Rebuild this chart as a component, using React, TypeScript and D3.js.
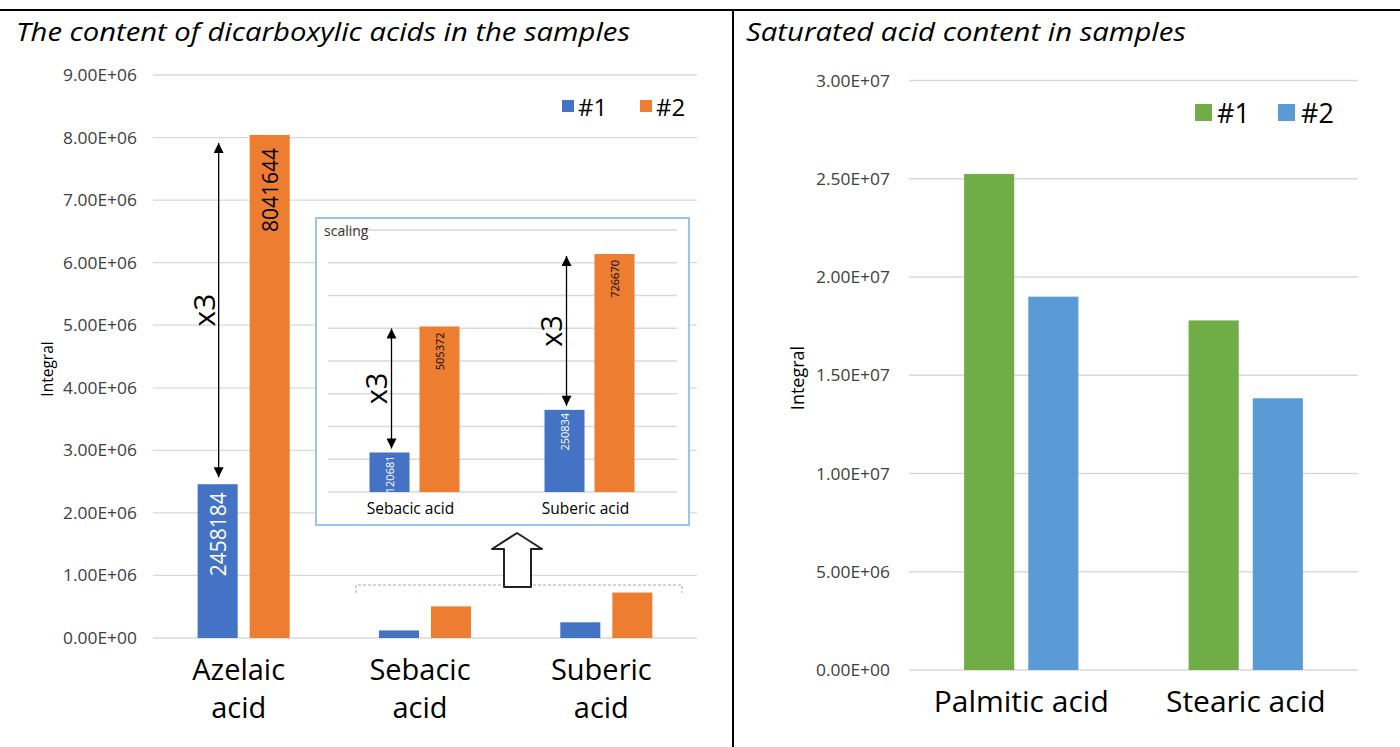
import React, { useRef, useEffect } from 'react'
import * as d3 from 'd3'

// left chart: dicarboxylic acids
const dicarbCategories = ['Azelaic acid', 'Sebacic acid', 'Suberic acid']
const dicarbSample1 = [2458184, 120681, 250834]
const dicarbSample2 = [8041644, 505372, 726670]
const dicarbTicks = [0, 1e6, 2e6, 3e6, 4e6, 5e6, 6e6, 7e6, 8e6, 9e6]

// inset "scaling" panel (zoom on the two small acids)
const insetCategories = ['Sebacic acid', 'Suberic acid']
const insetSample1 = [120681, 250834]
const insetSample2 = [505372, 726670]
const insetTicks = [0, 1e5, 2e5, 3e5, 4e5, 5e5, 6e5, 7e5, 8e5]

// right chart: saturated acids
const satCategories = ['Palmitic acid', 'Stearic acid']
const satSample1 = [25240000, 17790000]
const satSample2 = [19000000, 13830000]
const satTicks = [0, 5e6, 1e7, 1.5e7, 2e7, 2.5e7, 3e7]

const seriesNames = ['#1', '#2']
const dicarbColors = ['#4472c4', '#ed7d31']
const satColors = ['#70ad47', '#5b9bd5']

const FONT = "'Open Sans', 'Liberation Sans', sans-serif"
const GRID = '#d9d9d9'
const TICK = '#404040'

// 9000000 -> 9.00E+06
const sci = (v: number) => {
  const [m, e] = v.toExponential(2).split('e')
  const ex = +e
  return m + 'E' + (ex < 0 ? '-' : '+') + String(Math.abs(ex)).padStart(2, '0')
}

function App() {
  const ref = useRef<SVGSVGElement>(null)

  useEffect(() => {
    const svg = d3.select(ref.current)
    svg.selectAll('*').remove()
    svg.attr('font-family', FONT)

    const defs = svg.append('defs')
    defs.append('marker')
      .attr('id', 'head')
      .attr('viewBox', '0 0 10 10')
      .attr('refX', 10)
      .attr('refY', 5)
      .attr('markerUnits', 'userSpaceOnUse')
      .attr('markerWidth', 11)
      .attr('markerHeight', 10)
      .attr('orient', 'auto-start-reverse')
      .append('path')
      .attr('d', 'M0,0 L10,5 L0,10 z')
      .attr('fill', '#000')

    // table frame
    svg.append('line').attr('x1', 0).attr('x2', 1400).attr('y1', 10).attr('y2', 10)
      .attr('stroke', '#000').attr('stroke-width', 2)
    svg.append('line').attr('x1', 733).attr('x2', 733).attr('y1', 10).attr('y2', 747)
      .attr('stroke', '#000').attr('stroke-width', 2)

    // titles
    svg.append('text').attr('x', 16).attr('y', 41)
      .attr('font-size', 26).attr('font-style', 'italic')
      .attr('textLength', 614).attr('lengthAdjust', 'spacingAndGlyphs')
      .text('The content of dicarboxylic acids in the samples')
    svg.append('text').attr('x', 746).attr('y', 41)
      .attr('font-size', 26).attr('font-style', 'italic')
      .attr('textLength', 440).attr('lengthAdjust', 'spacingAndGlyphs')
      .text('Saturated acid content in samples')

    const grid = (g: any, ticks: number[], y: any, x1: number, x2: number) => {
      g.selectAll(null).data(ticks).enter().append('line')
        .attr('x1', x1).attr('x2', x2)
        .attr('y1', (d: number) => y(d)).attr('y2', (d: number) => y(d))
        .attr('stroke', GRID).attr('stroke-width', 1.3)
    }

    const tickLabels = (g: any, ticks: number[], y: any, x: number) => {
      g.selectAll(null).data(ticks).enter().append('text')
        .attr('x', x).attr('y', (d: number) => y(d))
        .attr('text-anchor', 'end').attr('dominant-baseline', 'central')
        .attr('font-size', 15.5).attr('fill', TICK)
        .attr('textLength', 74).attr('lengthAdjust', 'spacingAndGlyphs')
        .text((d: number) => sci(d))
    }

    const bars = (g: any, cats: string[], series: number[][], colors: string[], x0: any, x1: any, y: any) => {
      series.forEach((s, j) => {
        g.selectAll(null).data(cats).enter().append('rect')
          .attr('x', (c: string) => x0(c) + x1(String(j)))
          .attr('y', (c: string, i: number) => y(s[i]))
          .attr('width', x1.bandwidth())
          .attr('height', (c: string, i: number) => y(0) - y(s[i]))
          .attr('fill', colors[j])
      })
    }

    const valueLabel = (g: any, x: number, top: number, v: number, color: string, size: number, pad: number) => {
      g.append('text')
        .attr('transform', `translate(${x},${top + pad}) rotate(-90)`)
        .attr('text-anchor', 'end').attr('dominant-baseline', 'central')
        .attr('font-size', size).attr('fill', color)
        .text(String(v))
    }

    const scaleArrow = (g: any, x: number, y1: number, y2: number, size: number, off: number) => {
      g.append('line').attr('x1', x).attr('x2', x).attr('y1', y1).attr('y2', y2)
        .attr('stroke', '#000').attr('stroke-width', 1.3)
        .attr('marker-start', 'url(#head)').attr('marker-end', 'url(#head)')
      g.append('text')
        .attr('transform', `translate(${x - off},${(y1 + y2) / 2}) rotate(-90)`)
        .attr('text-anchor', 'middle').attr('dominant-baseline', 'central')
        .attr('font-size', size).attr('fill', '#000')
        .text('x3')
    }

    // ---------- left chart ----------
    const L = svg.append('g')
    const ly = d3.scaleLinear().domain([0, 9e6]).range([638, 75])
    const lx0 = d3.scaleBand().domain(dicarbCategories).range([153, 697])
    const lx1 = d3.scaleBand().domain(['0', '1']).range([0, lx0.bandwidth()])
      .paddingInner(0.2308).paddingOuter(0.858)
    grid(L, dicarbTicks, ly, 153, 697)
    tickLabels(L, dicarbTicks, ly, 137)
    bars(L, dicarbCategories, [dicarbSample1, dicarbSample2], dicarbColors, lx0, lx1, ly)

    L.append('text')
      .attr('transform', 'translate(47,369) rotate(-90)')
      .attr('text-anchor', 'middle').attr('dominant-baseline', 'central')
      .attr('font-size', 15.5).attr('fill', '#000').text('Integral')

    dicarbCategories.forEach(c => {
      const cx = lx0(c)! + lx0.bandwidth() / 2 - 5
      const t = L.append('text').attr('text-anchor', 'middle').attr('font-size', 29).attr('fill', '#000')
      c.split(' ').forEach((w, k) => {
        t.append('tspan').attr('x', cx).attr('y', 680 + k * 38).text(w)
      })
    })

    // labels and x3 arrow on Azelaic acid
    const az = dicarbCategories[0]
    const azB = lx0(az)! + lx1('0')! + lx1.bandwidth() / 2
    const azO = lx0(az)! + lx1('1')! + lx1.bandwidth() / 2
    valueLabel(L, azB, ly(dicarbSample1[0]), dicarbSample1[0], '#fff', 21, 8)
    valueLabel(L, azO, ly(dicarbSample2[0]), dicarbSample2[0], '#000', 21, 13)
    scaleArrow(L, azB + 1, ly(dicarbSample2[0]) + 8, ly(dicarbSample1[0]) - 7, 30, 15)

    // legend
    seriesNames.forEach((n, i) => {
      L.append('rect').attr('x', 562 + i * 78).attr('y', 100).attr('width', 12).attr('height', 12).attr('fill', dicarbColors[i])
      L.append('text').attr('x', 578 + i * 78).attr('y', 116).attr('font-size', 24).attr('fill', '#000').text(n)
    })

    // dashed bracket and hollow arrow pointing to inset
    L.append('path').attr('d', 'M356,593 V585 H682 V593')
      .attr('fill', 'none').attr('stroke', '#a6a6a6').attr('stroke-dasharray', '3,2')
    L.append('path').attr('d', 'M517,533 L542,549 L531,549 L531,587 L504,587 L504,549 L492,549 Z')
      .attr('fill', '#fff').attr('stroke', '#222').attr('stroke-width', 2).attr('stroke-linejoin', 'round')

    // ---------- inset ----------
    const I = svg.append('g')
    I.append('rect').attr('x', 316).attr('y', 218).attr('width', 373).attr('height', 307)
      .attr('fill', '#fff').attr('stroke', '#9dc3e6').attr('stroke-width', 2)
    const iy = d3.scaleLinear().domain([0, 8e5]).range([492, 230])
    const ix0 = d3.scaleBand().domain(insetCategories).range([327, 677])
    const ix1 = d3.scaleBand().domain(['0', '1']).range([0, ix0.bandwidth()])
      .paddingInner(0.2).paddingOuter(0.85)
    grid(I, insetTicks, iy, 328, 677)
    I.append('text').attr('x', 324).attr('y', 236).attr('font-size', 14).attr('fill', '#333').text('scaling')

    defs.append('clipPath').attr('id', 'insetClip')
      .append('rect').attr('x', 327).attr('y', 220).attr('width', 350).attr('height', 272)
    const IB = I.append('g').attr('clip-path', 'url(#insetClip)')
    bars(IB, insetCategories, [insetSample1, insetSample2], dicarbColors, ix0, ix1, iy)

    insetCategories.forEach((c, i) => {
      const bx = ix0(c)! + ix1('0')! + ix1.bandwidth() / 2
      const ox = ix0(c)! + ix1('1')! + ix1.bandwidth() / 2
      valueLabel(IB, bx, iy(insetSample1[i]), insetSample1[i], '#fff', 11, 3)
      valueLabel(IB, ox, iy(insetSample2[i]), insetSample2[i], '#000', 11, 6)
      scaleArrow(I, bx + 2, iy(insetSample2[i]) + 2, iy(insetSample1[i]) - 4, 29, 16)
      I.append('text').attr('x', ix0(c)! + ix0.bandwidth() / 2 - 4).attr('y', 514)
        .attr('text-anchor', 'middle').attr('font-size', 15.5).attr('fill', '#000').text(c)
    })

    // ---------- right chart ----------
    const R = svg.append('g')
    const ry = d3.scaleLinear().domain([0, 3e7]).range([670, 80.5])
    const rx0 = d3.scaleBand().domain(satCategories).range([909, 1358])
    const rx1 = d3.scaleBand().domain(['0', '1']).range([0, rx0.bandwidth()])
      .paddingInner(0.219).paddingOuter(0.859)
    grid(R, satTicks, ry, 909, 1358)
    tickLabels(R, satTicks, ry, 890)
    bars(R, satCategories, [satSample1, satSample2], satColors, rx0, rx1, ry)

    R.append('text')
      .attr('transform', 'translate(797,378) rotate(-90)')
      .attr('text-anchor', 'middle').attr('dominant-baseline', 'central')
      .attr('font-size', 18).attr('fill', '#000').text('Integral')

    satCategories.forEach(c => {
      R.append('text').attr('x', rx0(c)! + rx0.bandwidth() / 2).attr('y', 712)
        .attr('text-anchor', 'middle').attr('font-size', 30).attr('fill', '#000').text(c)
    })

    seriesNames.forEach((n, i) => {
      R.append('rect').attr('x', 1195 + i * 83).attr('y', 104).attr('width', 17).attr('height', 17).attr('fill', satColors[i])
      R.append('text').attr('x', 1217 + i * 84).attr('y', 123).attr('font-size', 27).attr('fill', '#000').text(n)
    })
  }, [])

  return (
    <svg ref={ref} width={1400} height={747} style={{ position: 'absolute', left: 0, top: 0, background: '#fff' }} />
  )
}

export default App
